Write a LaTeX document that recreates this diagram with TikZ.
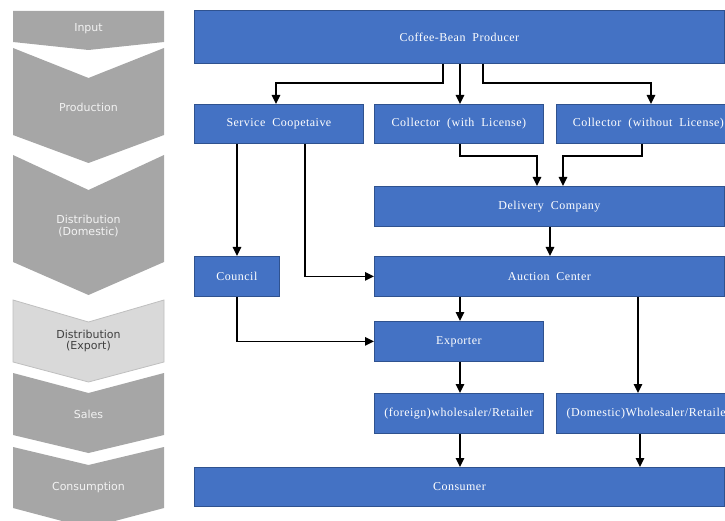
\documentclass[tikz,border=0pt]{standalone}
\usepackage{fontspec}
\setmainfont{Liberation Serif}[LetterSpace=4, WordSpace=2]
\newfontfamily\stagefont{DejaVu Sans}
\usetikzlibrary{arrows.meta}
\definecolor{boxblue}{HTML}{4472C4}
\definecolor{boxedge}{HTML}{2F528F}
\definecolor{stagegray}{HTML}{A6A6A6}
\definecolor{stagelight}{HTML}{D9D9D9}
\definecolor{stageedge}{HTML}{BFBFBF}
\definecolor{stagedark}{HTML}{404040}
\definecolor{stagetext}{HTML}{F2F2F2}

\begin{document}
\begin{tikzpicture}[x=1pt,y=-1pt,
  box/.style={draw=boxedge, line width=0.8pt, fill=boxblue, text=white,
    font=\fontsize{12}{14}\selectfont, anchor=north west, inner sep=0pt},
  flow/.style={draw=black, line width=1.5pt, -{Triangle[length=9pt,width=8.5pt]}},
  stage/.style={fill=stagegray},
  stagelabel/.style={text=stagetext, font=\stagefont\fontsize{11}{11.5}\selectfont, align=center},
]
\useasboundingbox (0,0) rectangle (725,521);

% ---- stage chevrons on the left ----
\fill[stage] (13,11) -- (164,11) -- (164,42) -- (88.5,50) -- (13,42) -- cycle;
\fill[stage] (13,48) -- (88.5,78) -- (164,48) -- (164,135) -- (88.5,163) -- (13,135) -- cycle;
\fill[stage] (13,155) -- (88.5,190) -- (164,155) -- (164,262) -- (88.5,295) -- (13,262) -- cycle;
\filldraw[fill=stagelight, draw=stageedge, line width=0.8pt]
  (13,300) -- (88.5,322) -- (164,300) -- (164,362) -- (88.5,382) -- (13,362) -- cycle;
\fill[stage] (13,373) -- (88.5,393) -- (164,373) -- (164,435) -- (88.5,453) -- (13,435) -- cycle;
\fill[stage] (13,447) -- (88.5,465) -- (164,447) -- (164,508) -- (88.5,528) -- (13,508) -- cycle;

\node[stagelabel] (sInput) at (88.5,29) {Input};
\node[stagelabel] (sProd) at (88.5,107) {Production};
\node[stagelabel] (sDom) at (88.5,226) {Distribution\\(Domestic)};
\node[stagelabel, text=stagedark] (sExp) at (88.5,341) {Distribution\\(Export)};
\node[stagelabel] (sSales) at (88.5,414) {Sales};
\node[stagelabel] (sCons) at (88.5,487) {Consumption};

% ---- actors ----
\node[box, minimum width=530, minimum height=53] (prod) at (194,10) {Coffee-Bean Producer};
\node[box, minimum width=169, minimum height=39] (coop) at (194,104) {Service Coopetaive};
\node[box, minimum width=169, minimum height=39] (colw) at (374,104) {Collector (with License)};
\node[box, minimum width=184, minimum height=39] (colwo) at (556,104) {Collector (without License)};
\node[box, minimum width=350, minimum height=40] (deliv) at (374,186) {Delivery Company};
\node[box, minimum width=85, minimum height=40] (council) at (194,256) {Council};
\node[box, minimum width=350, minimum height=40] (auction) at (374,256) {Auction Center};
\node[box, minimum width=169, minimum height=40] (exporter) at (374,321) {Exporter};
\node[box, minimum width=169, minimum height=40] (foreign) at (374,393) {(foreign)wholesaler/Retailer};
\node[box, minimum width=184, minimum height=40] (domestic) at (556,393) {(Domestic)Wholesaler/Retailer};
\node[box, minimum width=530, minimum height=39] (consumer) at (194,467) {Consumer};

% ---- flows ----
\draw[flow] (443,0 |- prod.south) -- (443,83) -| (276,0 |- coop.north);
\draw[flow] (460,0 |- prod.south) -- (460,0 |- colw.north);
\draw[flow] (483,0 |- prod.south) -- (483,83) -| (651,0 |- colwo.north);
\draw[flow] (237,0 |- coop.south) -- (237,0 |- council.north);
\draw[flow] (305,0 |- coop.south) |- (auction.west);
\draw[flow] (460,0 |- colw.south) -- (460,156) -| (537,0 |- deliv.north);
\draw[flow] (642,0 |- colwo.south) -- (642,156) -| (563,0 |- deliv.north);
\draw[flow] (550,0 |- deliv.south) -- (550,0 |- auction.north);
\draw[flow] (460,0 |- auction.south) -- (460,0 |- exporter.north);
\draw[flow] (638,0 |- auction.south) -- (638,0 |- domestic.north);
\draw[flow] (237,0 |- council.south) |- (exporter.west);
\draw[flow] (460,0 |- exporter.south) -- (460,0 |- foreign.north);
\draw[flow] (460,0 |- foreign.south) -- (460,0 |- consumer.north);
\draw[flow] (640,0 |- domestic.south) -- (640,0 |- consumer.north);
\end{tikzpicture}
\end{document}
